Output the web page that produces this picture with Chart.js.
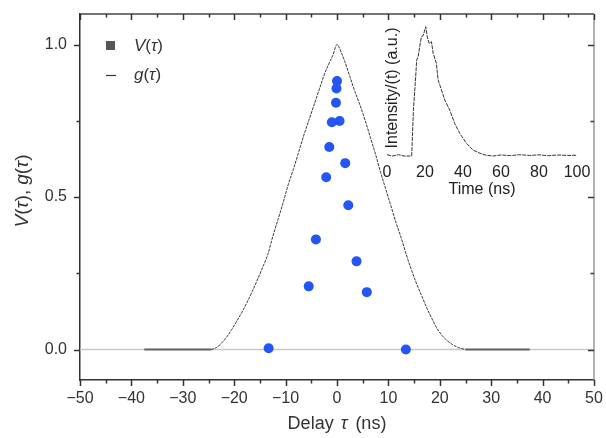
<!DOCTYPE html>
<html>
<head>
<meta charset="utf-8">
<script src="https://cdn.jsdelivr.net/npm/chart.js@4"></script>
<style>
  html, body { margin:0; padding:0; background:#fff; }
  #wrap { position:relative; width:606px; height:438px; }
  #main { position:absolute; left:0; top:0; }
  #inset { position:absolute; left:370px; top:0; }
</style>
</head>
<body>
<div id="wrap">
  <canvas id="main" width="606" height="438"></canvas>
  <canvas id="inset" width="230" height="200"></canvas>
</div>
<script>
const FONT = '"Liberation Sans", Arial, sans-serif'

// ===== data =====
// V(τ) measured points
const vDelay = [0.0, -0.1, -0.2, -1.0, 0.5, -1.5, 1.6, -2.1, 2.2, -4.1, 3.8, -5.5, 5.8, -13.3, 13.4]
const vValue = [0.88, 0.856, 0.809, 0.745, 0.749, 0.664, 0.611, 0.565, 0.473, 0.361, 0.289, 0.207, 0.188, 0.004, 0.0]

// g(τ) curve
const gDelay = [-24.5, -23.5, -22.5, -21.5, -20.5, -19.5, -18.5, -17.5, -16.5, -15.5, -14.5, -13.5, -12.5, -11.5, -10.5, -9.5, -8.5, -7.5, -6.5, -5.5, -4.5, -3.5, -2.5, -1.5, -0.8, 0, 0.8, 1.5, 2.5, 3.5, 4.5, 5.5, 6.5, 7.5, 8.5, 9.5, 10.5, 11.5, 12.5, 13.5, 14.5, 15.5, 16.5, 17.5, 18.5, 19.5, 20.5, 21.5, 22.5, 23.5, 25]
const gValue = [0, 0.006, 0.02, 0.04, 0.065, 0.093, 0.122, 0.155, 0.19, 0.228, 0.268, 0.31, 0.37, 0.425, 0.48, 0.54, 0.59, 0.645, 0.7, 0.75, 0.8, 0.85, 0.9, 0.94, 0.965, 1.0, 0.975, 0.945, 0.895, 0.845, 0.8, 0.75, 0.695, 0.64, 0.58, 0.525, 0.47, 0.415, 0.365, 0.31, 0.26, 0.215, 0.175, 0.135, 0.1, 0.068, 0.045, 0.028, 0.016, 0.007, 0]

// flat tails of g(τ), null splits the two pieces
const tailDelay = [-37.5, -24.5, 0, 25, 37.5]
const tailValue = [0, 0, null, 0, 0]

// light zero line
const baseDelay = [-50, 50]
const baseValue = [0, 0]

// inset: intensity vs time
const timeNs = [0, 3, 6, 9, 12, 13, 13.9, 15.1, 15.6, 16.4, 17.2, 18.1, 19, 20.4, 21.2, 22.2, 23.4, 24.3, 26, 26.9, 28.7, 30.4, 33, 35.6, 38.3, 41.8, 45.3, 48.9, 52.4, 56, 60, 65, 70, 75, 80, 85, 90, 95, 100]
const intensity = [0.01, 0.0, 0.01, 0.0, 0.0, 0.0, 0.356, 0.613, 0.742, 0.768, 0.845, 0.923, 0.93, 1.0, 0.923, 0.871, 0.884, 0.794, 0.716, 0.587, 0.51, 0.433, 0.356, 0.253, 0.175, 0.098, 0.046, 0.021, 0.005, 0.0, 0.008, 0.003, 0.01, 0.004, 0.009, 0.002, 0.008, 0.004, 0.006]

// ticks
const xTickVals = [-50, -40, -30, -20, -10, 0, 10, 20, 30, 40, 50]
const xMinorVals = [-45, -35, -25, -15, -5, 5, 15, 25, 35, 45]
const yTickVals = [0, 0.5, 1.0]
const yMinorVals = [0.25, 0.75]
const insetTickVals = [0, 20, 40, 60, 80, 100]

const toXY = (xs, ys) => xs.map((x, i) => ({ x, y: ys[i] }))
const fmtMinus = v => v < 0 ? '\u2212' + Math.abs(v) : String(v)

// mixed upright / italic text
function drawRich(ctx, parts, x, y, size, opt = {}) {
  ctx.save()
  ctx.translate(x, y)
  if (opt.rotate) ctx.rotate(-Math.PI / 2)
  ctx.textBaseline = 'middle'
  ctx.textAlign = 'left'
  ctx.fillStyle = opt.color || '#333'
  const fontOf = p => `${p.i ? 'italic ' : ''}${size}px ${FONT}`
  let total = 0
  parts.forEach(p => { ctx.font = fontOf(p); total += ctx.measureText(p.t).width + (p.gap || 0) })
  let cx = opt.left ? 0 : -total / 2
  parts.forEach(p => {
    ctx.font = fontOf(p)
    ctx.fillText(p.t, cx, 0)
    cx += ctx.measureText(p.t).width + (p.gap || 0)
  })
  ctx.restore()
}

// frame, mirrored ticks, legend, axis titles
const framePlugin = {
  id: 'frame',
  afterDraw(chart) {
    const { ctx, chartArea: a, scales: { x, y } } = chart
    ctx.save()
    ctx.lineWidth = 1.5
    ctx.strokeStyle = '#444'
    ctx.beginPath(); ctx.moveTo(a.left, a.top); ctx.lineTo(a.right, a.top); ctx.stroke()
    ctx.strokeStyle = '#999'
    ctx.beginPath(); ctx.moveTo(a.right, a.top); ctx.lineTo(a.right, a.bottom); ctx.stroke()

    ctx.strokeStyle = '#333'
    const tickX = (v, len) => {
      const px = Math.round(x.getPixelForValue(v)) + 0.5
      ctx.beginPath(); ctx.moveTo(px, a.bottom); ctx.lineTo(px, a.bottom + len); ctx.stroke()
      ctx.beginPath(); ctx.moveTo(px, a.top); ctx.lineTo(px, a.top + len); ctx.stroke()
    }
    const tickY = (v, len) => {
      const py = Math.round(y.getPixelForValue(v)) + 0.5
      ctx.beginPath(); ctx.moveTo(a.left, py); ctx.lineTo(a.left - len, py); ctx.stroke()
      ctx.beginPath(); ctx.moveTo(a.right, py); ctx.lineTo(a.right - len, py); ctx.stroke()
    }
    xTickVals.forEach(v => tickX(v, 6))
    xMinorVals.forEach(v => tickX(v, 3.5))
    yTickVals.forEach(v => tickY(v, 6))
    yMinorVals.forEach(v => tickY(v, 3.5))
    ctx.restore()

    // legend
    ctx.save()
    ctx.fillStyle = '#555'
    ctx.fillRect(106, 41, 9, 9)
    ctx.strokeStyle = '#333'
    ctx.lineWidth = 1.2
    ctx.beginPath(); ctx.moveTo(106, 75.5); ctx.lineTo(116, 75.5); ctx.stroke()
    ctx.restore()
    drawRich(ctx, [{ t: 'V', i: true }, { t: '(' }, { t: '\u03c4', i: true }, { t: ')' }], 134, 46, 17, { left: true })
    drawRich(ctx, [{ t: 'g', i: true }, { t: '(' }, { t: '\u03c4', i: true }, { t: ')' }], 134, 75, 17, { left: true })

    // axis titles
    drawRich(ctx, [{ t: 'Delay', gap: 7 }, { t: '\u03c4', i: true, gap: 8 }, { t: '(ns)' }], 337, 424, 18)
    drawRich(ctx, [{ t: 'V', i: true }, { t: '(' }, { t: '\u03c4', i: true }, { t: '),', gap: 5 }, { t: 'g', i: true }, { t: '(' }, { t: '\u03c4', i: true }, { t: ')' }], 23, 191, 19, { rotate: true })
  }
}

new Chart(document.getElementById('main'), {
  type: 'scatter',
  data: {
    datasets: [
      { label: 'zero', data: toXY(baseDelay, baseValue), showLine: true, borderColor: '#c8c8c8', borderWidth: 1.5, pointRadius: 0, order: 4 },
      { label: 'tail', data: toXY(tailDelay, tailValue), showLine: true, spanGaps: false, borderColor: '#666', borderWidth: 1.8, pointRadius: 0, order: 3 },
      { label: 'g(τ)', data: toXY(gDelay, gValue), showLine: true, borderColor: '#3a3a3a', borderWidth: 1, borderDash: [3, 1], pointRadius: 0, cubicInterpolationMode: 'monotone', order: 2 },
      { label: 'V(τ)', data: toXY(vDelay, vValue), pointRadius: 5, pointBackgroundColor: '#2356f5', pointBorderWidth: 0, order: 1 }
    ]
  },
  options: {
    responsive: false, animation: false,
    layout: { padding: { top: 14, right: 12, left: 0, bottom: 0 } },
    plugins: { legend: { display: false }, tooltip: { enabled: false } },
    scales: {
      x: {
        type: 'linear', min: -50, max: 50,
        afterBuildTicks: s => { s.ticks = xTickVals.map(v => ({ value: v })) },
        afterFit: s => { s.height = 58; s.paddingLeft = 0; s.paddingRight = 0 },
        grid: { display: false, drawTicks: false },
        border: { display: true, color: '#333', width: 1.5 },
        ticks: { padding: 9, color: '#333', font: { family: FONT, size: 16 }, maxRotation: 0, callback: v => fmtMinus(v) }
      },
      y: {
        type: 'linear', min: -0.1, max: 1.1,
        afterBuildTicks: s => { s.ticks = yTickVals.map(v => ({ value: v })) },
        afterFit: s => { s.width = 80; s.paddingTop = 0; s.paddingBottom = 0 },
        grid: { display: false, drawTicks: false },
        border: { display: true, color: '#333', width: 1.5 },
        ticks: { padding: 13, color: '#333', font: { family: FONT, size: 16 }, callback: v => v.toFixed(1) }
      }
    }
  },
  plugins: [framePlugin]
})

// ===== inset =====
const insetTitlePlugin = {
  id: 'insetTitle',
  afterDraw(chart) {
    drawRich(chart.ctx, [{ t: 'Intensity/(t) (a.u.)' }], 23, 88, 16, { rotate: true, color: '#222' })
  }
}

new Chart(document.getElementById('inset'), {
  type: 'scatter',
  data: {
    datasets: [
      { label: 'I(t)', data: toXY(timeNs, intensity), showLine: true, borderColor: '#333', borderWidth: 1, borderDash: [4, 1], pointRadius: 0 }
    ]
  },
  options: {
    responsive: false, animation: false,
    layout: { padding: { top: 20, right: 23, left: 17, bottom: 0 } },
    plugins: { legend: { display: false }, tooltip: { enabled: false } },
    scales: {
      x: {
        type: 'linear', min: 0, max: 100,
        afterBuildTicks: s => { s.ticks = insetTickVals.map(v => ({ value: v })) },
        afterFit: s => { s.height = 40 },
        grid: { display: false, drawTicks: false },
        border: { display: false },
        ticks: { padding: 3, color: '#222', font: { family: FONT, size: 16 }, maxRotation: 0 },
        title: { display: true, text: 'Time (ns)', color: '#222', font: { family: FONT, size: 16 }, padding: { top: 0, bottom: 1 } }
      },
      y: { type: 'linear', min: -0.031, max: 1.052, display: false }
    }
  },
  plugins: [insetTitlePlugin]
})
</script>
</body>
</html>
